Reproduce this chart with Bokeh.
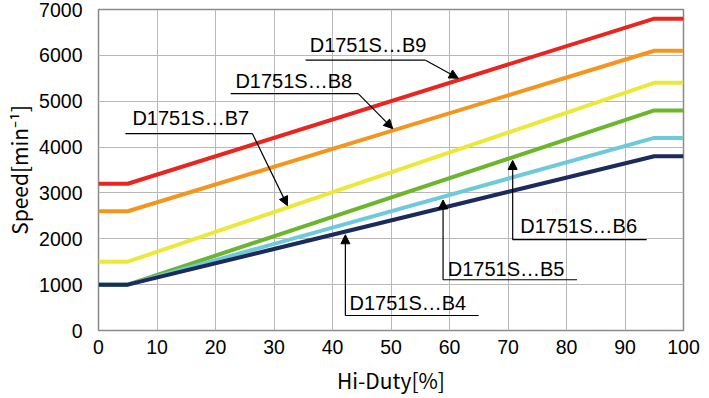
import numpy as np
from bokeh.plotting import figure
from bokeh.models import Range1d, FixedTicker, Arrow, NormalHead, ColumnDataSource
from bokeh.core.properties import value
from bokeh.embed import file_html
from bokeh.resources import INLINE

# ---- data ----
duty = [0, 5, 95, 100]
names = ["D1751S…B9", "D1751S…B8", "D1751S…B7", "D1751S…B6", "D1751S…B5", "D1751S…B4"]
b9 = [3200, 3200, 6800, 6800]
b8 = [2600, 2600, 6100, 6100]
b7 = [1500, 1500, 5400, 5400]
b6 = [1000, 1000, 4800, 4800]
b5 = [1000, 1000, 4200, 4200]
b4 = [1000, 1000, 3800, 3800]
series = [b9, b8, b7, b6, b5, b4]
colors = ["#e8261f", "#f4961e", "#ece83a", "#6cb52d", "#6dcad8", "#1c2b5c"]
x_ticks = list(range(0, 101, 10))
y_ticks = list(range(0, 7001, 1000))
x_title = "Hi-Duty[%]"
y_title = "Speed[min⁻¹]"

# label layout (data units): text left, text baseline, underline y, underline x0, x1, arrow tip x
lab_tx = [36.1, 23.4, 5.8, 72.1, 59.7, 42.9]
lab_ty = [6220, 5440, 4630, 2270, 1350, 590]
lab_uy = [5894, 5167, 4294, 1980, 1107, 327]
lab_u0 = [35.4, 22.6, 4.6, 70.8, 58.9, 42.2]
lab_u1 = [55.9, 44.4, 26.3, 93.7, 81.8, 65.0]
tip_x = [61.5, 50.3, 32.3, 70.8, 58.9, 42.2]
down = [True, True, True, False, False, False]

p = figure(width=709, height=398, x_range=Range1d(0, 100), y_range=Range1d(0, 7000),
           output_backend="svg", toolbar_location=None,
           min_border_left=98, min_border_right=26, min_border_top=9, min_border_bottom=68)
p.background_fill_color = "white"
p.border_fill_color = "white"
p.outline_line_color = "#8a8a8a"
p.outline_line_width = 1.5

p.xaxis.ticker = FixedTicker(ticks=x_ticks)
p.yaxis.ticker = FixedTicker(ticks=y_ticks)
for ax in (p.xaxis[0], p.yaxis[0]):
    ax.axis_line_color = None
    ax.major_tick_line_color = None
    ax.minor_tick_line_color = None
    ax.major_tick_out = 0
    ax.major_tick_in = 0
    ax.minor_tick_out = 0
    ax.major_label_text_font = "Liberation Sans"
    ax.major_label_text_font_size = "19.5px"
    ax.major_label_text_color = "black"
    ax.axis_label_text_font = "Noto Sans CJK JP"
    ax.axis_label_text_font_size = "21px"
    ax.axis_label_text_font_style = "normal"
    ax.axis_label_text_color = "black"
p.xaxis.axis_label = x_title
p.yaxis.axis_label = y_title
p.xaxis.major_label_standoff = 9
p.xaxis.axis_label_standoff = 8
p.yaxis.major_label_standoff = 16
p.yaxis.axis_label_standoff = 2

p.xgrid.grid_line_color = "#b8b8b8"
p.ygrid.grid_line_color = "#b8b8b8"
p.xgrid.grid_line_width = 1
p.ygrid.grid_line_width = 1

for s, c in zip(series, colors):
    p.line(duty, s, line_color=c, line_width=4)

# series labels
src = ColumnDataSource(dict(x=lab_tx, y=lab_ty, t=names))
p.text(x="x", y="y", text="t", source=src, text_font=value("Liberation Sans"),
       text_font_size="20px", text_baseline="alphabetic", text_align="left", text_color="black")

for i in range(len(names)):
    ty = float(np.interp(tip_x[i], duty, series[i]))
    p.line([lab_u0[i], lab_u1[i]], [lab_uy[i], lab_uy[i]], line_color="black", line_width=1.2)
    head = NormalHead(size=9, fill_color="black", line_color="black")
    if down[i]:
        p.add_layout(Arrow(end=head, x_start=lab_u1[i], y_start=lab_uy[i], x_end=tip_x[i], y_end=ty + 40,
                           line_color="black", line_width=1.2))
    else:
        p.add_layout(Arrow(end=head, x_start=lab_u0[i], y_start=lab_uy[i], x_end=tip_x[i], y_end=ty - 70,
                           line_color="black", line_width=1.2))

open("out.html", "w").write(file_html(p, INLINE))
